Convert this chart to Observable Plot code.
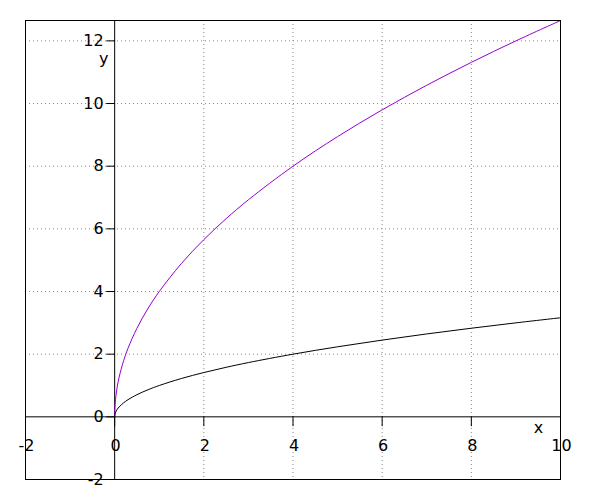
<!DOCTYPE html>
<html>
<head>
<meta charset="utf-8">
<script src="https://cdn.jsdelivr.net/npm/d3@7"></script>
<script src="https://cdn.jsdelivr.net/npm/@observablehq/plot@0.6"></script>
<style>
  html, body { margin: 0; padding: 0; background: #fff; }
  #chart svg { display: block; }
</style>
</head>
<body>
<div id="chart"></div>
<script>
// Values
const xs      = [0, 0.002, 0.01, 0.03, 0.06, 0.1, 0.2, 0.3, 0.5, 0.75, 1, 1.5, 2, 2.5, 3, 4, 5, 6, 7, 8, 9, 10];
const yBlack  = [0, 0.045, 0.1, 0.173, 0.245, 0.316, 0.447, 0.548, 0.707, 0.866, 1, 1.225, 1.414, 1.581, 1.732, 2, 2.236, 2.449, 2.646, 2.828, 3, 3.162];
const yPurple = [0, 0.179, 0.4, 0.693, 0.98, 1.265, 1.789, 2.191, 2.828, 3.464, 4, 4.899, 5.657, 6.325, 6.928, 8, 8.944, 9.798, 10.583, 11.314, 12, 12.649];
const xTicks = [-2, 0, 2, 4, 6, 8, 10];
const yTicks = [-2, 0, 2, 4, 6, 8, 10, 12];
const xGrid = [2, 4, 6, 8];
const yGrid = [2, 4, 6, 8, 10, 12];

const black = xs.map((x, i) => ({x, y: yBlack[i]}));
const purple = xs.map((x, i) => ({x, y: yPurple[i]}));

const lineShape = {
  draw(context, l) { context.moveTo(0, 0); context.lineTo(0, -l); }
};

const chart = Plot.plot({
  width: 600,
  height: 500,
  marginLeft: 25,
  marginRight: 40,
  marginTop: 20,
  marginBottom: 21,
  style: {fontFamily: "DejaVu Sans", fontSize: "16px", background: "#fff", overflow: "visible"},
  x: {domain: [-2, 10], axis: null},
  y: {domain: [-2, 12.65], axis: null},
  marks: [
    Plot.ruleX(xGrid, {stroke: "#888", strokeDasharray: "1,3", strokeWidth: 1}),
    Plot.ruleY(yGrid, {stroke: "#888", strokeDasharray: "1,3", strokeWidth: 1}),
    Plot.ruleX([0], {stroke: "black", strokeWidth: 1}),
    Plot.ruleY([0], {stroke: "black", strokeWidth: 1}),
    Plot.vector(xTicks, {x: d => d, y: 0, length: 9, rotate: 180, anchor: "start", shape: lineShape, stroke: "black", strokeWidth: 1}),
    Plot.vector(yTicks, {x: 0, y: d => d, length: 8, rotate: -90, anchor: "start", shape: lineShape, stroke: "black", strokeWidth: 1}),
    Plot.line(purple, {x: "x", y: "y", stroke: "#9400d3", strokeWidth: 1, curve: "catmull-rom"}),
    Plot.line(black, {x: "x", y: "y", stroke: "black", strokeWidth: 1, curve: "catmull-rom"}),
    Plot.frame({stroke: "black", strokeWidth: 1}),
    Plot.text(xTicks, {x: d => d, y: 0, text: d => String(d), dy: 29, dx: 1, textAnchor: "middle", fill: "black", fontSize: 16}),
    Plot.text(yTicks, {x: 0, y: d => d, text: d => String(d), dx: -11, textAnchor: "end", fill: "black", fontSize: 16}),
    Plot.text(["x"], {x: 10, y: 0, text: d => d, dx: -22, dy: 11, textAnchor: "middle", fill: "black", fontSize: 16}),
    Plot.text(["y"], {x: 0, y: 12, text: d => d, dx: -11, dy: 18, textAnchor: "middle", fill: "black", fontSize: 16})
  ]
});
document.getElementById("chart").appendChild(chart);
</script>
</body>
</html>
